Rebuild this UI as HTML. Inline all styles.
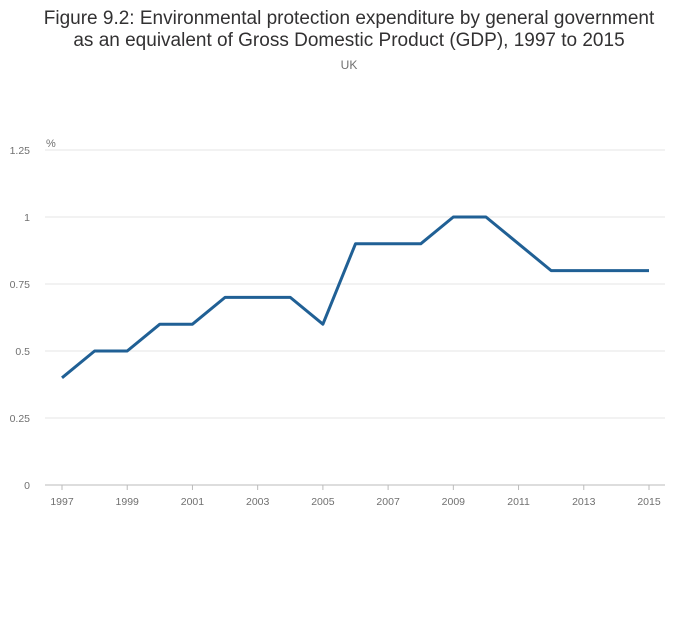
<!DOCTYPE html>
<html><head><meta charset="utf-8"><style>
body{margin:0;background:#fff;width:700px;height:635px;overflow:hidden;font-family:"Liberation Sans",sans-serif}
</style></head><body>
<svg width="700" height="635">
<text x="349" y="24" text-anchor="middle" font-size="19" fill="#323132">Figure 9.2: Environmental protection expenditure by general government</text>
<text x="349" y="46" text-anchor="middle" font-size="19" fill="#323132">as an equivalent of Gross Domestic Product (GDP), 1997 to 2015</text>
<text x="349" y="69" text-anchor="middle" font-size="12" fill="#707070">UK</text>
<text x="46" y="147" font-size="11" fill="#707070">%</text>
<g id="grid"></g><g id="xaxis"></g>
<path id="line" fill="none" stroke="#206095" stroke-width="3" stroke-linejoin="round"/>
</svg>
<script>
const years=[1997,1998,1999,2000,2001,2002,2003,2004,2005,2006,2007,2008,2009,2010,2011,2012,2013,2014,2015];
const values=[0.4,0.5,0.5,0.6,0.6,0.7,0.7,0.7,0.6,0.9,0.9,0.9,1.0,1.0,0.9,0.8,0.8,0.8,0.8];
const yTicks=[0,0.25,0.5,0.75,1,1.25];
const xTicks=[1997,1999,2001,2003,2005,2007,2009,2011,2013,2015];
const ns="http://www.w3.org/2000/svg";
const X=v=>62+(v-1997)*(649-62)/18;
const Y=v=>485-v*268;
const g=document.getElementById('grid'),xa=document.getElementById('xaxis');
yTicks.forEach(t=>{
const l=document.createElementNS(ns,'line');


l.setAttribute('x1',45);l.setAttribute('x2',665);l.setAttribute('y1',Y(t));l.setAttribute('y2',Y(t));
l.setAttribute('stroke',t===0?'#bbb':'#e6e6e6');l.setAttribute('stroke-width',1);g.appendChild(l);
const tx=document.createElementNS(ns,'text');


tx.setAttribute('x',30);tx.setAttribute('y',Y(t)+4);tx.setAttribute('text-anchor','end');
tx.setAttribute('font-size','10.5');tx.setAttribute('fill','#707070');tx.textContent=String(t);g.appendChild(tx);
});
xTicks.forEach(t=>{
const l=document.createElementNS(ns,'line');


l.setAttribute('x1',X(t));l.setAttribute('x2',X(t));l.setAttribute('y1',485);l.setAttribute('y2',490);
l.setAttribute('stroke','#bbb');xa.appendChild(l);
const tx=document.createElementNS(ns,'text');


tx.setAttribute('x',X(t));tx.setAttribute('y',505);tx.setAttribute('text-anchor','middle');
tx.setAttribute('font-size','10.5');tx.setAttribute('fill','#707070');tx.textContent=t;xa.appendChild(tx);
});
document.getElementById('line').setAttribute('d',years.map((y,i)=>(i?'L':'M')+X(y)+','+Y(values[i])).join(''));
</script>
</body></html>
